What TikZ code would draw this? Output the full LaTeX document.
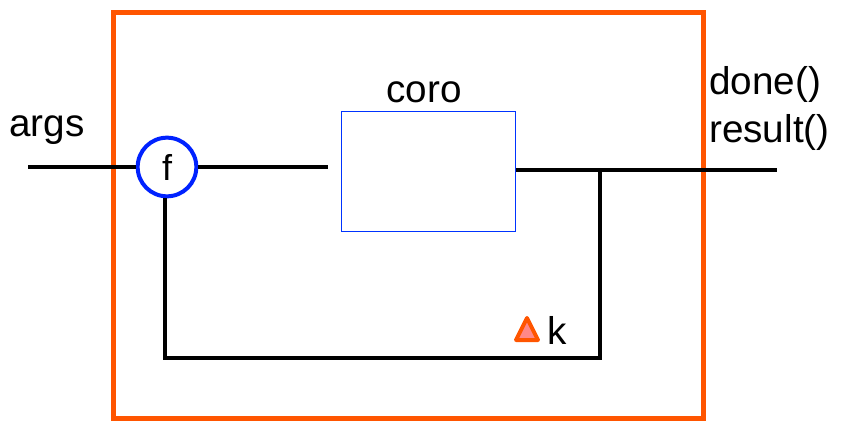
\documentclass[tikz,border=0pt]{standalone}
\usepackage{fontspec}
\setmainfont{Liberation Sans}
\definecolor{orng}{RGB}{255,85,0}
\definecolor{pinkf}{RGB}{255,136,136}
\definecolor{blu}{RGB}{0,51,255}
\definecolor{bluc}{RGB}{0,34,255}
\begin{document}
\begin{tikzpicture}[x=0.75pt,y=-0.75pt,
  wire/.style={line width=3.5pt*0.75},
  lbl/.style={font=\fontsize{29}{32}\selectfont, inner sep=0pt}]
\useasboundingbox (0,0) rectangle (861,431);
\draw[line width=3.75pt, orng] (113,13) rectangle (703,418);
\node[draw=blu, line width=0.75pt, minimum width=131pt, minimum height=90pt, inner sep=0pt] (coro) at (428.5,172) {};
\node[circle, draw=bluc, line width=3pt, minimum size=44pt, inner sep=0pt, font=\fontsize{27}{30}\selectfont] (f) at (167,167) {f};
\coordinate (a) at (28,167);
\coordinate (c1) at (328,167);
\coordinate (o) at (777,170);
\coordinate (j) at (600,170);
\coordinate (b1) at (600,358);
\coordinate (b2) at (165,358);
\draw[wire] (a) -- (f.west);
\draw[wire] (f.east) -- (c1);
\draw[wire] (coro.east |- o) -- (o);
\draw[wire] (j) -- (b1) -- (b2) -- (b2 |- f.south);
\node[lbl] (args) at (47,130) {args};
\node[lbl] (corol) at (424,92) {coro};
\node[lbl, anchor=west] (done) at (709,84) {done()};
\node[lbl, anchor=west] (res) at (709,132) {result()};
\node[lbl] (k) at (557,330) {k};
\draw[line width=3pt, line join=round, draw=orng, fill=pinkf] (516,340) -- (527,318) -- (538,340) -- cycle;
\end{tikzpicture}
\end{document}
